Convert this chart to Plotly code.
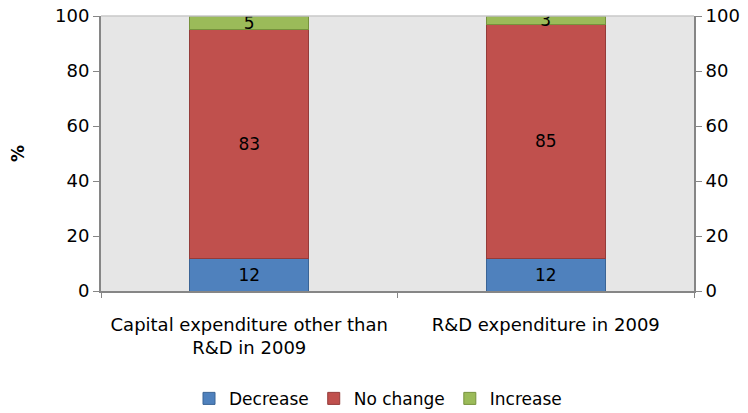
import plotly.graph_objects as go

categories = ["Capital expenditure other than<br>R&D in 2009", "R&D expenditure in 2009"]
decrease = [12, 12]
no_change = [83, 85]
increase = [5, 3]

FONT = "'DejaVu Sans', sans-serif"

series = [
    ("Decrease", decrease, "#4F81BD", "#3A6496"),
    ("No change", no_change, "#C0504D", "#943B39"),
    ("Increase", increase, "#9BBB59", "#76923C"),
]

fig = go.Figure()
for name, vals, col, edge in series:
    fig.add_trace(go.Bar(
        x=categories, y=vals, name=name,
        marker=dict(color=col, line=dict(color=edge, width=1)),
        text=vals, textposition="inside", insidetextanchor="middle",
        constraintext="none", textangle=0,
        textfont=dict(family=FONT, size=17, color="black"),
    ))

# invisible trace so the right-hand axis gets drawn
fig.add_trace(go.Scatter(x=categories, y=[0, 0], yaxis="y2", mode="markers",
                         marker=dict(opacity=0), showlegend=False, hoverinfo="skip"))

# page body has an 8px margin, so the figure is 740x405 placed at (8, 8)
fig.update_layout(
    width=740, height=405,
    barmode="stack", bargap=0.6,
    paper_bgcolor="white", plot_bgcolor="#E6E6E6",
    margin=dict(l=93, r=54, t=8, b=122, autoexpand=False),
    font=dict(family=FONT, size=18, color="black"),
    xaxis=dict(type="category", tickson="boundaries", ticks="outside", ticklen=5,
               tickcolor="#868686", showline=True, linecolor="#868686", linewidth=2,
               showgrid=False, tickfont=dict(size=18), ticklabelstandoff=16),
    yaxis=dict(range=[0, 100], dtick=20, ticks="outside", ticklen=6, tickcolor="#868686",
               showline=True, linecolor="#868686", linewidth=2, showgrid=False,
               zeroline=False, tickfont=dict(size=18), ticklabeloverflow="allow",
               title=dict(text="<b>%</b>", font=dict(size=17), standoff=36)),
    yaxis2=dict(range=[0, 100], dtick=20, overlaying="y", side="right", ticks="outside",
                ticklen=6, tickcolor="#868686", showline=True, linecolor="#868686",
                linewidth=2, showgrid=False, zeroline=False, tickfont=dict(size=18),
                ticklabeloverflow="allow"),
    legend=dict(orientation="h", x=0.5, xanchor="center", xref="container",
                y=0.035, yanchor="middle", yref="container",
                font=dict(size=17), traceorder="normal"),
    shapes=[dict(type="line", xref="paper", yref="paper", x0=0, x1=1, y0=1, y1=1,
                 line=dict(color="#C8C8C8", width=1.5))],
)

fig.write_html("out.html")
